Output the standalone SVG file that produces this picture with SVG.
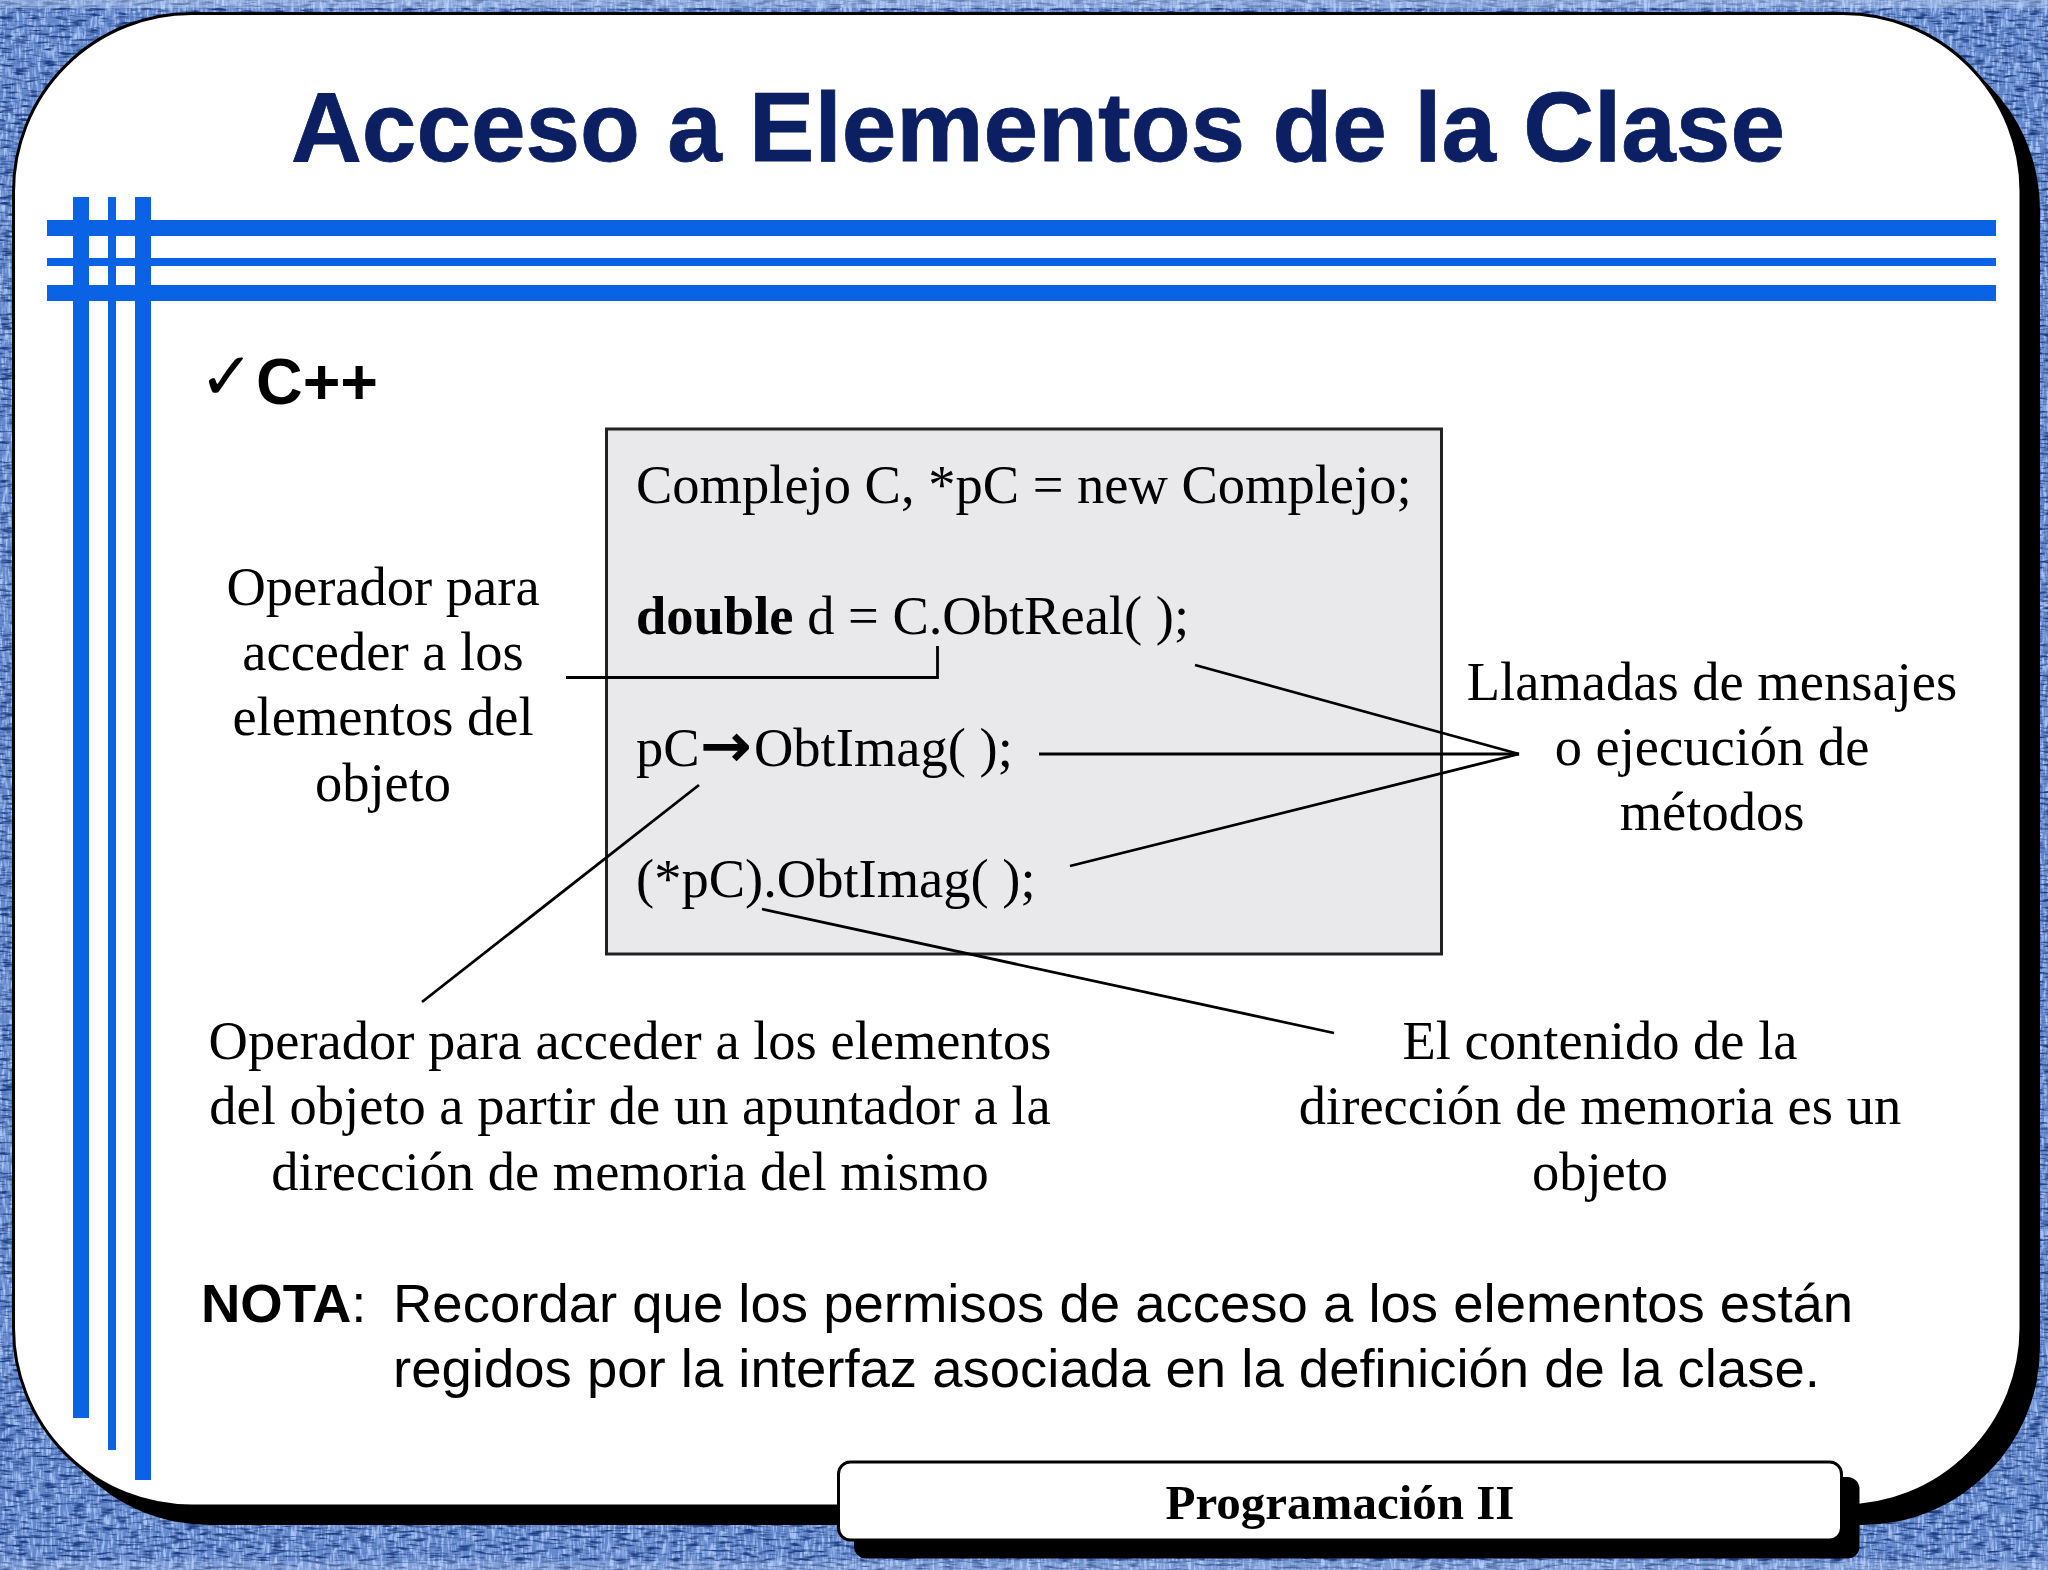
<svg xmlns="http://www.w3.org/2000/svg" width="2048" height="1570" viewBox="0 0 2048 1570">
<style>
.s{font-family:"Liberation Serif","Times New Roman",serif;font-size:54.5px;fill:#000}
.c{text-anchor:middle}
.a{font-family:"Liberation Sans",Arial,sans-serif;fill:#000}
.l{fill:none;stroke:#000;stroke-width:2.8}
.r{fill:#0a62e4}
</style>
<defs>
<filter id="denim" x="0" y="0" width="100%" height="100%" color-interpolation-filters="sRGB">
<feTurbulence type="fractalNoise" baseFrequency="0.07 0.36" numOctaves="2" seed="3" result="h"/>
<feTurbulence type="fractalNoise" baseFrequency="0.36 0.07" numOctaves="2" seed="8" result="v"/>
<feColorMatrix in="h" type="matrix" values="0 0 0 0 0 0 0 0 0 0 0 0 0 0 0 3.4 0 0 0 -1.6" result="da"/>
<feColorMatrix in="v" type="matrix" values="0 0 0 0 0 0 0 0 0 0 0 0 0 0 0 0 3.4 0 0 -1.45" result="la"/>
<feFlood flood-color="#6488cc" result="base"/>
<feFlood flood-color="#1d3c80" result="ink"/>
<feFlood flood-color="#a9c4f4" result="lite"/>
<feComposite in="ink" in2="da" operator="in" result="inked"/>
<feComposite in="lite" in2="la" operator="in" result="lit"/>
<feMerge><feMergeNode in="base"/><feMergeNode in="lit"/><feMergeNode in="inked"/></feMerge>
</filter>
</defs>
<g id="background">
<rect width="2048" height="1570" fill="#6f95d6" filter="url(#denim)"/>
<rect width="2048" height="8" fill="#cfe0fb" opacity="0.4"/>
<rect y="1561" width="2048" height="9" fill="#cfe0fb" opacity="0.25"/>
</g>
<g id="panel">
<rect x="32" y="32" width="2008" height="1493" rx="178" ry="178" fill="#000"/>
<rect x="13.500" y="13.500" width="2007.500" height="1492.500" rx="178" ry="178" fill="#fff" stroke="#000" stroke-width="3"/>
</g>
<g id="rails">
<rect class="r" x="47" y="220" width="1949" height="16"/>
<rect class="r" x="47" y="258" width="1949" height="8"/>
<rect class="r" x="47" y="285" width="1949" height="16"/>
<rect class="r" x="73" y="197" width="16" height="1221"/>
<rect class="r" x="108" y="197" width="8" height="1253"/>
<rect class="r" x="135" y="197" width="16" height="1283"/>
</g>
<g id="title"><text x="1038" y="161" class="a c" font-size="98.100" font-weight="700" style="fill:#0b1f62;stroke:#0b1f62;stroke-width:.8">Acceso a Elementos de la Clase</text></g>
<g id="bullet"><text x="199" y="399" font-family="DejaVu Sans,sans-serif" font-size="66">✓</text><text x="256" y="404" class="a" font-size="64.600" font-weight="700">C++</text></g>
<g id="code">
<rect x="606.500" y="429" width="835" height="525" fill="#e9e9ec" stroke="#222" stroke-width="3"/>
<text x="636" y="503" class="s">Complejo C, *pC = new Complejo;</text>
<text x="636" y="634" class="s"><tspan font-weight="700">double</tspan> d = C.ObtReal( );</text>
<text x="636" y="766" class="s">pC<tspan x="701" font-family="DejaVu Sans" style="font-size:60px;stroke:#000;stroke-width:1.6">→</tspan><tspan x="754">ObtImag( );</tspan></text>
<text x="636" y="897" class="s">(*pC).ObtImag( );</text>
</g>
<g id="connectors">
<path class="l" d="M566 677.500H937.500V646"/>
<path class="l" d="M1195 665L1519 754"/>
<path class="l" d="M1039 754H1519"/>
<path class="l" d="M1070 866L1519 754"/>
<path class="l" d="M699 785L422 1002"/>
<path class="l" d="M762 909L1334 1033"/>
</g>
<g id="label-punto"><text x="383" y="605" class="s c">Operador para</text><text x="383" y="670" class="s c">acceder a los</text><text x="383" y="735" class="s c">elementos del</text><text x="383" y="801" class="s c">objeto</text></g>
<g id="label-llamadas"><text x="1712" y="700" class="s c">Llamadas de mensajes</text><text x="1712" y="765" class="s c">o ejecución de</text><text x="1712" y="830" class="s c">métodos</text></g>
<g id="label-flecha"><text x="630" y="1059" class="s c">Operador para acceder a los elementos</text><text x="630" y="1124" class="s c">del objeto a partir de un apuntador a la</text><text x="630" y="1190" class="s c">dirección de memoria del mismo</text></g>
<g id="label-contenido"><text x="1600" y="1059" class="s c">El contenido de la</text><text x="1600" y="1124" class="s c">dirección de memoria es un</text><text x="1600" y="1190" class="s c">objeto</text></g>
<g id="nota"><text x="201" y="1322" class="a" font-size="54.500"><tspan font-weight="700">NOTA</tspan>:</text><text x="393" y="1322" class="a" font-size="54.500">Recordar que los permisos de acceso a los elementos están</text><text x="393" y="1387" class="a" font-size="54.500">regidos por la interfaz asociada en la definición de la clase.</text></g>
<g id="footer">
<rect x="854" y="1477" width="1005.500" height="81.500" rx="12" fill="#000"/>
<rect x="838.500" y="1462" width="1003" height="78" rx="12" fill="#fff" stroke="#000" stroke-width="3"/>
<text x="1340" y="1519" class="s c" font-weight="700" style="font-size:49px">Programación II</text>
</g>
</svg>
